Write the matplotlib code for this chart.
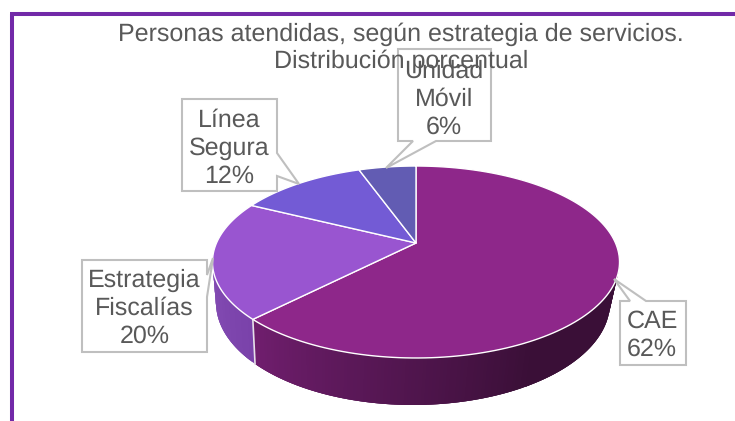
import numpy as np
import matplotlib
matplotlib.use("Agg")
import matplotlib.pyplot as plt
from matplotlib.patches import Polygon

categories = ["CAE", "Estrategia\nFiscalías", "Línea\nSegura", "Unidad\nMóvil"]
values = [62.4, 19.9, 12.2, 5.5]
colors = ["#8E278A", "#9955D0", "#735BD5", "#625CB3"]
title = "Personas atendidas, según estrategia de servicios.\nDistribución porcentual"
TEXT = "#595959"
GREY = "#BFBFBF"
FRAME = "#7229A8"

# label centres (pixels) and callout outlines
label_pos = [(652, 335), (144.5, 308.5), (229, 148.5), (444, 99.5)]
callouts = [
    [(646, 301), (686, 301), (686, 365), (620, 365), (620, 301), (630, 301), (614, 279), (646, 301)],
    [(207, 275), (207, 260), (82, 260), (82, 352), (207, 352), (207, 297), (213, 258), (207, 275)],
    [(277, 153), (277, 99), (182, 99), (182, 191), (277, 191), (277, 176), (299, 184), (277, 153)],
    [(436, 141), (491, 141), (491, 49), (398, 49), (398, 141), (413, 141), (386, 168), (436, 141)],
]

# perspective disc -> image mapping
CX, AY, B0, C, RX = 416.0, -44.1, 243.0, 0.198, 199.5
def disc(theta):
    """theta clockwise from top, radians"""
    u, v = np.sin(theta), np.cos(theta)
    w = 1 + C * v
    return CX + RX * u / w, (AY * v + B0) / w

TOP = (416.0, 262.0, 203.5, 96.0)
BOT = (413.0, 303.0, 197.0, 102.0)
def rim(e, t):
    return e[0] + e[2] * np.cos(t), e[1] + e[3] * np.sin(t)

plt.rcParams["font.family"] = ["Liberation Sans", "DejaVu Sans"]
plt.rcParams["text.hinting"] = "no_hinting"
plt.rcParams["text.hinting_factor"] = 1

fig = plt.figure(figsize=(7.35, 4.21), dpi=100)
ax = fig.add_axes([0, 0, 1, 1])
ax.set_xlim(0, 735)
ax.set_ylim(421, 0)
ax.axis("off")

# frame
ax.plot([12, 12], [421, 14], color=FRAME, lw=2.9, solid_capstyle="butt")
ax.plot([10, 735], [14, 14], color=FRAME, lw=2.9, solid_capstyle="butt")

fr = np.array(values) / sum(values)
edges = np.concatenate([[0], np.cumsum(fr)]) * 2 * np.pi

# wall: parameter of the CAE / Fiscalías boundary on the rim
bx, by = disc(edges[1])
t_split = np.arctan2((by - TOP[1]) / TOP[3], (bx - TOP[0]) / TOP[2])

def wall(t0, t1, c0, c1, n=90):
    """Painter's order: each band overlaps the next so no seams show."""
    ts = np.linspace(t0, t1, n + 1)
    for k, f in zip(range(n), np.linspace(0, 1, n)):
        a, b = ts[k], ts[min(k + 3, n)]
        p = [rim(TOP, a), rim(TOP, b), rim(BOT, b), rim(BOT, a)]
        col = np.array(c0) * (1 - f) + np.array(c1) * f
        ax.add_patch(Polygon(p, closed=True, fc=col / 255, ec="none", zorder=2))

wall(t_split, np.pi, (122, 66, 170), (132, 76, 180), n=30)
wall(0.30 * np.pi, t_split, (58, 15, 55), (112, 30, 110))
wall(0, 0.30 * np.pi + 0.02, (58, 15, 55), (58, 15, 55), n=40)
ax.plot(*zip(rim(TOP, t_split), rim(BOT, t_split)), color="#E6E0EA", lw=1.2, zorder=3)

# top face
for i, col in enumerate(colors):
    th = np.linspace(edges[i], edges[i + 1], 150)
    xs, ys = disc(th)
    pts = np.vstack([[disc(0.0)[0], B0], np.column_stack([xs, ys])])
    ax.add_patch(Polygon(pts, closed=True, fc=col, ec="white", lw=1.0, zorder=4, joinstyle="round"))

# callouts and labels
for cat, v, pos, path in zip(categories, values, label_pos, callouts):
    ax.add_patch(Polygon(path, closed=True, fill=False, ec=GREY, lw=1.5, zorder=5, joinstyle="miter"))
    ax.text(pos[0], pos[1], f"{cat}\n{v:.0f}%", ha="center", va="center", ma="center",
            color=TEXT, fontsize=17.7, linespacing=1.26, zorder=6)

ax.text(401, 48, title, ha="center", va="center", ma="center", color=TEXT,
        fontsize=18.3, linespacing=1.2, zorder=6)

fig.savefig("out.png", dpi=100)
